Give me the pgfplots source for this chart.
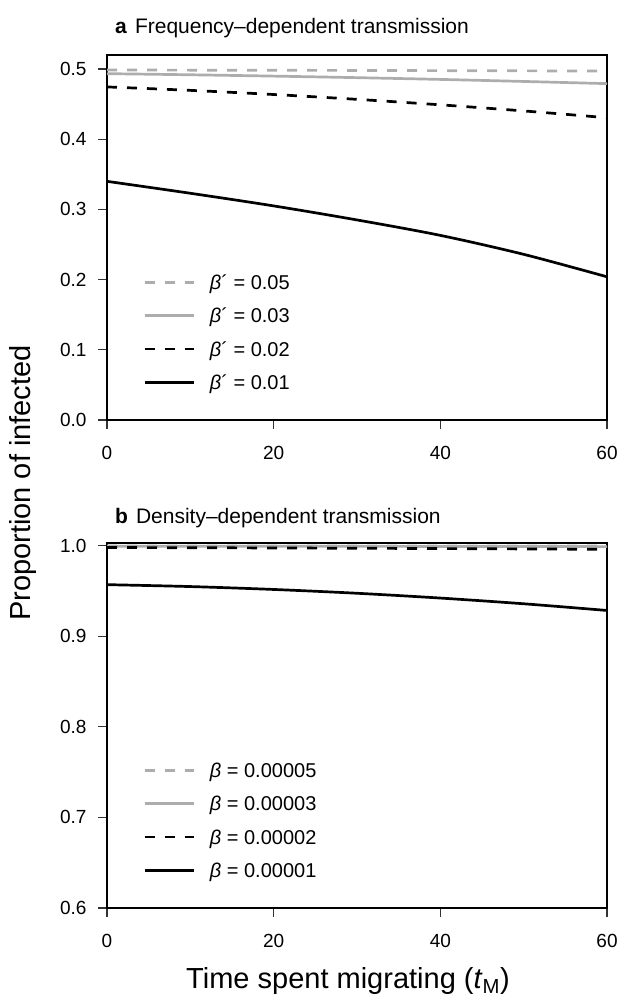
\documentclass[border=0pt]{standalone}
\usepackage{fontspec}
\setmainfont{Liberation Sans}
\usepackage{pgfplots}
\pgfplotsset{compat=1.18}
\definecolor{LineGray}{HTML}{ADADAD}
\definecolor{TickGray}{HTML}{333333}

\newcommand{\labfont}{\fontsize{20}{24}\selectfont}
\newcommand{\tickfont}{\fontsize{19}{22}\selectfont}

\pgfplotsset{
  panel/.style={
    scale only axis, width=500pt, height=365pt,
    xmin=0, xmax=60, xtick={0,20,40,60},
    axis line style={line width=1.1pt},
    tick align=outside, xtick pos=bottom, ytick pos=left,
    major tick length=9pt,
    tick style={line width=1.1pt, color=TickGray},
    tick label style={font=\tickfont},
    xticklabel style={yshift=-14pt},
    /pgf/number format/assume math mode=true,
    yticklabel style={xshift=-8pt, /pgf/number format/fixed,
      /pgf/number format/fixed zerofill, /pgf/number format/precision=1},
    legend cell align=left,
    legend style={draw=none, fill=none, font=\labfont, inner sep=0pt,
      at={(0.072,0.397)}, anchor=north west,
      nodes={inner sep=0pt, text height=14.3pt, text depth=0pt},
      row sep=19pt, column sep=15pt},
    legend image code/.code={\draw[##1] (0pt,0pt) -- (49pt,0pt);},
  },
  gdash/.style={LineGray, line width=2.7pt, dash pattern=on 10pt off 10pt},
  gsolid/.style={LineGray, line width=2.7pt},
  kdash/.style={black, line width=2.7pt, dash pattern=on 10pt off 10pt},
  ksolid/.style={black, line width=2.7pt},
}

\begin{document}
\begin{tikzpicture}
\path[use as bounding box] (0pt,0pt) rectangle (619pt,998pt);

% panel a
\begin{axis}[panel, at={(107pt,578pt)}, anchor=south west,
  ymin=0, ymax=0.52, ytick={0,0.1,...,0.5}]
\addplot[gdash, smooth] coordinates {(0,0.4986)(10,0.4984)(20,0.4982)(30,0.4980)(40,0.4977)(50,0.4974)(60,0.4970)};
\addlegendentry{\textit{β}´ = 0.05}
\addplot[gsolid, smooth] coordinates {(0,0.4934)(10,0.4918)(20,0.4899)(30,0.4877)(40,0.4852)(50,0.4823)(60,0.4792)};
\addlegendentry{\textit{β}´ = 0.03}
\addplot[kdash, smooth] coordinates {(0,0.4745)(10,0.4696)(20,0.4637)(30,0.4568)(40,0.4490)(50,0.4403)(60,0.4306)};
\addlegendentry{\textit{β}´ = 0.02}
\addplot[ksolid, smooth] coordinates {(0,0.340)(10,0.323)(20,0.305)(30,0.285)(40,0.263)(50,0.236)(60,0.204)};
\addlegendentry{\textit{β}´ = 0.01}
\end{axis}

% panel b
\begin{axis}[panel, at={(107pt,90pt)}, anchor=south west,
  ymin=0.6, ymax=1.003, ytick={0.6,0.7,...,1.0}]
\addplot[gdash, smooth] coordinates {(0,0.9998)(20,0.9998)(40,0.9997)(60,0.9997)};
\addlegendentry{\textit{β} = 0.00005}
\addplot[gsolid, smooth] coordinates {(0,0.9995)(20,0.9994)(40,0.9992)(60,0.9990)};
\addlegendentry{\textit{β} = 0.00003}
\addplot[kdash, smooth] coordinates {(0,0.9980)(10,0.99778)(20,0.99751)(30,0.99719)(40,0.99684)(50,0.99644)(60,0.9960)};
\addlegendentry{\textit{β} = 0.00002}
\addplot[ksolid, smooth] coordinates {(0,0.957)(10,0.9549)(20,0.9517)(30,0.9475)(40,0.9422)(50,0.9359)(60,0.9285)};
\addlegendentry{\textit{β} = 0.00001}
\end{axis}

\node[anchor=base west, inner sep=0pt, font=\fontsize{21}{24}\selectfont] at (115pt,964pt)
  {\textbf{a}\hspace{8pt}Frequency–dependent transmission};
\node[anchor=base west, inner sep=0pt, font=\fontsize{21}{24}\selectfont] at (115pt,474pt)
  {\textbf{b}\hspace{8pt}Density–dependent transmission};
\node[rotate=90, font=\fontsize{29}{34}\selectfont] at (23pt,515pt) {Proportion of infected};
\node[font=\fontsize{29}{34}\selectfont] at (348pt,17pt) {Time spent migrating (\textit{t}\textsubscript{M})};
\end{tikzpicture}
\end{document}
